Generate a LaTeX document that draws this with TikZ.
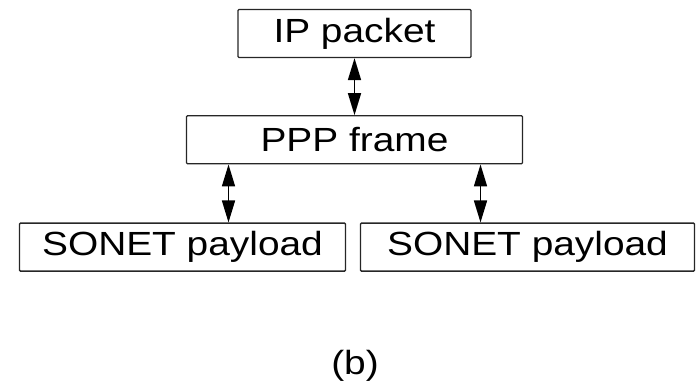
\documentclass[tikz,border=0pt]{standalone}
\usepackage{fontspec}
\setmainfont{Liberation Sans}
\usetikzlibrary{positioning,arrows.meta}

% text in the reference is drawn a little wide
\newcommand{\widetext}[1]{\scalebox{1.16}[1]{#1}}

\begin{document}
\begin{tikzpicture}[
  x=1pt, y=1pt,
  layer/.style={
    draw=black!85, line width=1.3pt, rounded corners=1pt,
    minimum height=48pt, inner sep=0pt,
    font=\fontsize{33.5}{38}\selectfont
  },
  biarr/.style={{Triangle[length=22pt,width=13pt]}-{Triangle[length=22pt,width=13pt]}, line width=1.6pt},
  node distance=57pt
]
  \useasboundingbox (0,0) rectangle (700,-388);

  % Protocol layers
  \node[layer, minimum width=233pt] (ip) at (354.5,-33.5) {\widetext{IP packet}};
  \node[layer, minimum width=336pt, below=of ip] (ppp) {\widetext{PPP frame}};
  \node[layer, minimum width=326pt, below=58pt of ppp.south, xshift=-172pt] (sonL) {\widetext{SONET payload}};
  \node[layer, minimum width=334pt, below=58pt of ppp.south, xshift=173pt]  (sonR) {\widetext{SONET payload}};

  % Mapping arrows
  \draw[biarr] (ppp) -- (ip);
  \draw[biarr] ([xshift=46pt]sonL.north) -- ([xshift=46pt]sonL.north |- ppp.south);
  \draw[biarr] ([xshift=-47pt]sonR.north) -- ([xshift=-47pt]sonR.north |- ppp.south);

  % Caption
  \node[font=\fontsize{33.5}{38}\selectfont] (cap) at (355,-366) {\widetext{(b)}};
\end{tikzpicture}
\end{document}
